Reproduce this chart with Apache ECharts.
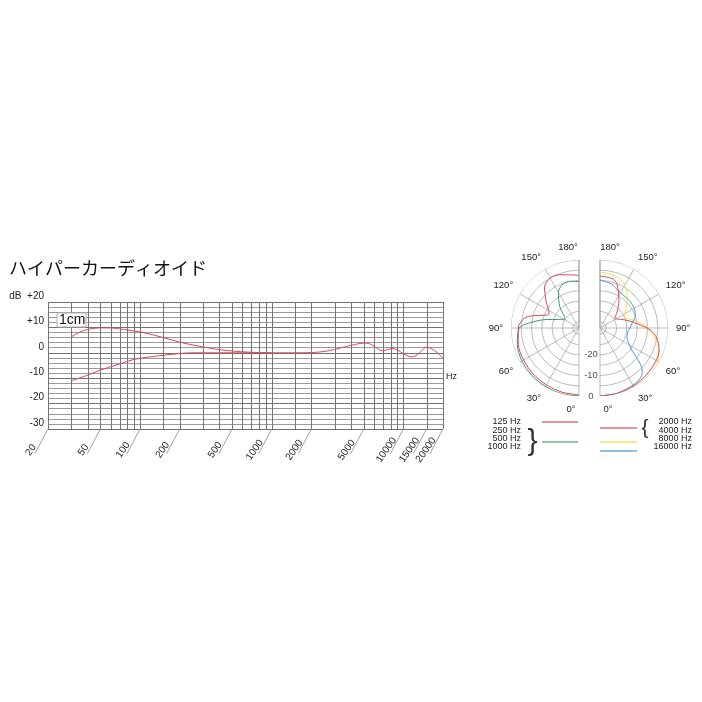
<!DOCTYPE html>
<html><head><meta charset="utf-8">
<script src="https://cdn.jsdelivr.net/npm/echarts@6/dist/echarts.min.js"></script>
<style>html,body{margin:0;padding:0;background:#fff}#c{width:702px;height:702px}</style>
</head><body><div id="c"></div>
<script>
// ---------- texts ----------
const titleText = 'ハイパーカーディオイド';
const nearLabel = '1cm';
const xUnit = 'Hz';

// ---------- frequency response ----------
const gridFreqs = [20,30,40,50,60,70,80,90,100,150,200,300,400,500,600,700,800,900,1000,1500,2000,3000,4000,5000,6000,7000,8000,9000,10000,15000,20000];
const xTickFreqs = [20,50,100,200,500,1000,2000,5000,10000,15000,20000];
const xTickLabels = ['20','50','100','200','500','1000','2000','5000','10000','15000','20000'];
const yMajorTicks = [-30,-20,-10,0,10,20];

const nearFreqs = [30,35,40,50,60,70,80,100,120,150,200,280,360,480,700,1000];
const nearDb    = [6.2,8.2,9.2,9.8,9.8,9.4,9.0,8.2,7.3,6.0,4.2,2.6,1.6,0.8,0.2,0];

const farFreqs = [30,40,50,70,90,120,160,200,250,400,700,1000,1500,2000,2500,3000,3700,4400,5000,5500,6000,6900,7600,8200,9000,10000,11000,11700,12500,13500,15000,16500,18000,20000];
const farDb    = [-11,-8.8,-6.8,-4.4,-2.6,-1.6,-0.8,-0.3,0,0,0,0,0,0.1,0.5,1.3,2.5,3.4,3.8,3.6,2.6,0.8,1.3,1.7,1.2,-0.4,-1.4,-1.6,-1.1,0.4,2.2,1.5,0.2,-2];

// ---------- polar patterns ----------
const polarRingDb = [0,-5,-10,-15,-20,-25,-30];
const polarDbLabels = [-20,-10,0];

const ang125 = [0,15,30,45,60,75,90,100,105,110,115,120,130,140,150,160,170,180];
const db125  = [-0.5,-0.8,-1.2,-1.5,-2,-2.5,-3.5,-6,-10,-15,-17,-16,-12,-7,-5,-5.5,-6.8,-7.5];

const ang250 = [0,15,30,45,60,75,90,97,105,112,120,128,138,150,160,170,180];
const db250  = [0,0,-0.3,-0.6,-1,-2,-4,-10,-17,-22,-25,-24,-19,-13,-10.3,-10,-10.5];

const ang2k = [0,15,30,45,60,70,80,88,100,108,124,133,145,158,165,180];
const db2k  = [0,-0.2,-0.5,-1,-1.5,-2.5,-5,-8.7,-16.7,-20.3,-24.3,-21.7,-17,-10.6,-8.4,-7.8];

const ang8k = [0,15,30,45,55,60,70,80,90,95,105,112,120,130,140,150,160,170,180];
const db8k  = [0,0,0,0,0,-0.5,-2.5,-6,-10,-12,-17,-20,-19,-16,-12.5,-9,-7,-6.3,-6];

const ang16k = [0,15,30,40,45,50,55,60,70,80,90,100,108,118,130,140,153,165,180];
const db16k  = [0,-0.3,-1,-2,-4,-9,-14,-16.5,-19,-19.5,-18.5,-17,-15,-14,-13.5,-13.5,-13,-11,-9.7];

const legendLeftLabels = ['125 Hz','250 Hz','500 Hz','1000 Hz'];
const legendRightLabels = ['2000 Hz','4000 Hz','8000 Hz','16000 Hz'];

// ---------- styles ----------
const RED = '#d9485a', GREEN = '#3a9a6e', YELLOW = '#efe05a', BLUE = '#4a98d4';
const RED_L = '#e8939c', GREEN_L = '#8fcaa9', YELLOW_L = '#f4ea8e', BLUE_L = '#8fc0e4';
const FONT = '"Liberation Sans", Arial, sans-serif';

const pairs = (a, b) => a.map((v, i) => [v, b[i]]);
const polarPairs = (ang, db) => ang.map((a, i) => [db[i], a]);

const chart = echarts.init(document.getElementById('c'), null, {renderer: 'canvas'});

const series = [];

// vertical log-paper grid lines
series.push({
  type: 'custom', xAxisIndex: 0, yAxisIndex: 0, silent: true, z: 1,
  data: gridFreqs.map(f => [f, 0]),
  renderItem: (params, api) => {
    const t = api.coord([api.value(0), 20]);
    const b = api.coord([api.value(0), -30]);
    const x = Math.round(t[0]) + 0.5;
    return {type: 'line', shape: {x1: x, y1: t[1], x2: x, y2: b[1]}, style: {stroke: '#747474', lineWidth: 1}};
  }
});

// slanted frequency labels with leader lines
series.push({
  type: 'custom', xAxisIndex: 0, yAxisIndex: 0, silent: true, clip: false,
  data: xTickFreqs.map(f => [f, -30]),
  renderItem: (params, api) => {
    const p = api.coord([api.value(0), -30]);
    const ang = 62 * Math.PI / 180;
    return {
      type: 'group',
      children: [
        {type: 'line', shape: {x1: p[0], y1: p[1], x2: p[0] - 28 * Math.cos(ang), y2: p[1] + 28 * Math.sin(ang)},
         style: {stroke: '#8a8a8a', lineWidth: 0.8}},
        {type: 'text', x: p[0] - 17, y: p[1] + 21, rotation: 55 * Math.PI / 180,
         style: {text: xTickLabels[params.dataIndex], align: 'center', verticalAlign: 'middle',
                 fontSize: 10, fontFamily: FONT, fill: '#222'}}
      ]
    };
  }
});

series.push({
  type: 'line', xAxisIndex: 0, yAxisIndex: 0, data: pairs(farFreqs, farDb),
  smooth: 0.35, showSymbol: false, symbol: 'none', lineStyle: {color: RED, width: 1}, z: 3
});
series.push({
  type: 'line', xAxisIndex: 0, yAxisIndex: 0, data: pairs(nearFreqs, nearDb),
  smooth: 0.35, showSymbol: false, symbol: 'none', lineStyle: {color: RED, width: 1}, z: 3
});

// polar rings (half circles)
const ringAngles = [];
for (let a = 0; a <= 180; a += 2) ringAngles.push(a);
[0, 1].forEach(pi => {
  polarRingDb.forEach(d => {
    series.push({
      type: 'line', coordinateSystem: 'polar', polarIndex: pi, silent: true, clip: false,
      data: ringAngles.map(a => [d, a]), symbol: 'none', smooth: false,
      lineStyle: {color: '#aaaaaa', width: 0.8}, z: 1
    });
  });
  // extension of the 180° axis above the outer ring
  series.push({
    type: 'line', coordinateSystem: 'polar', polarIndex: pi, silent: true, clip: false,
    data: [[-33, 180], [6, 180]], symbol: 'none',
    lineStyle: {color: '#999999', width: 0.8}, z: 1
  });
});

const polarCurve = (pi, ang, db, color) => ({
  type: 'line', coordinateSystem: 'polar', polarIndex: pi, clip: false,
  data: polarPairs(ang, db), symbol: 'none', smooth: 0.3,
  lineStyle: {color: color, width: 1}, z: 3
});
series.push(polarCurve(0, ang250, db250, GREEN));
series.push(polarCurve(0, ang125, db125, RED));
series.push(polarCurve(1, ang8k, db8k, YELLOW));
series.push(polarCurve(1, ang16k, db16k, BLUE));
series.push(polarCurve(1, ang2k, db2k, RED));

// dB labels of the polar plot
series.push({
  type: 'scatter', coordinateSystem: 'polar', polarIndex: 0, clip: false, silent: true,
  symbolSize: 0, data: polarDbLabels.map(d => [d, 0]),
  label: {show: true, position: 'inside', offset: [12, 0], formatter: p => String(p.value[0]),
          fontSize: 9.5, fontFamily: FONT, color: '#222'}
});

const angleAxisCommon = (pi, clockwise) => ({
  polarIndex: pi, type: 'value', min: 0, max: 360, interval: 30, startAngle: 270, clockwise: clockwise,
  axisLine: {show: false}, axisTick: {show: false},
  axisLabel: {
    margin: 8, fontSize: 9.5, fontFamily: FONT, color: '#222',
    formatter: v => v > 180 ? '' : (v === 0 ? '{a|0°}' : v === 180 ? '{b|180°}' : v + '°'),
    rich: clockwise ? {
      a: {padding: [0, 16, 0, 0], fontSize: 9.5, fontFamily: FONT, color: '#222'},
      b: {padding: [0, 22, 0, 0], fontSize: 9.5, fontFamily: FONT, color: '#222'}
    } : {
      a: {padding: [0, 0, 0, 16], fontSize: 9.5, fontFamily: FONT, color: '#222'},
      b: {padding: [0, 0, 0, 20], fontSize: 9.5, fontFamily: FONT, color: '#222'}
    }
  },
  splitLine: {show: true, lineStyle: {width: 0.8,
    color: Array.from({length: 12}, (_, i) => i <= 6 ? '#aaaaaa' : 'rgba(0,0,0,0)')}}
});

const legendGraphics = [];
legendLeftLabels.forEach((t, i) => legendGraphics.push({
  type: 'text', x: 521, y: 421.7 + i * 8.33, z: 100,
  style: {text: t, align: 'right', verticalAlign: 'middle', fontSize: 9, fontFamily: FONT, fill: '#222'}
}));
legendRightLabels.forEach((t, i) => legendGraphics.push({
  type: 'text', x: 692, y: 421.7 + i * 8.33, z: 100,
  style: {text: t, align: 'right', verticalAlign: 'middle', fontSize: 9, fontFamily: FONT, fill: '#222'}
}));
const legendLine = (x1, x2, y, c) => ({type: 'rect', z: 100, shape: {x: x1, y: y, width: x2 - x1, height: 2},
  style: {fill: c, stroke: null}});
legendGraphics.push(legendLine(542, 578, 421, RED_L));
legendGraphics.push(legendLine(542, 578, 441, GREEN_L));
legendGraphics.push(legendLine(600, 637, 427, RED_L));
legendGraphics.push(legendLine(600, 637, 441, YELLOW_L));
legendGraphics.push(legendLine(600, 637, 450, BLUE_L));
legendGraphics.push({type: 'text', x: 532.5, y: 441.5, z: 100,
  style: {text: '}', align: 'center', verticalAlign: 'middle', fontSize: 30, fontFamily: FONT, fontWeight: 'lighter', fill: '#333'}});
legendGraphics.push({type: 'text', x: 645, y: 428, z: 100,
  style: {text: '{', align: 'center', verticalAlign: 'middle', fontSize: 21, fontFamily: FONT, fontWeight: 'lighter', fill: '#333'}});
// "1cm" box
legendGraphics.push({type: 'group', x: 57, y: 313, z: 100, children: [
  {type: 'rect', shape: {x: 0, y: 0, width: 29, height: 14}, style: {fill: '#fff', stroke: '#b0b0b0', lineWidth: 1}, z: 100},
  {type: 'text', x: 2, y: 7.5, style: {text: nearLabel, align: 'left', verticalAlign: 'middle', fontSize: 14, fontFamily: FONT, fill: '#111'}, z: 101}
]});

const option = {
  animation: false,
  backgroundColor: '#ffffff',
  title: {text: titleText, left: 9, top: 259, padding: 0,
          textStyle: {fontSize: 18, fontWeight: 'normal', fontFamily: '"Noto Sans CJK JP"', color: '#111'}},
  grid: {left: 48, top: 302, width: 395, height: 127, containLabel: false},
  xAxis: {
    type: 'log', logBase: 10, min: 20, max: 20000,
    axisLine: {show: false}, axisTick: {show: false}, axisLabel: {show: false}, splitLine: {show: false},
    name: xUnit, nameLocation: 'end', nameGap: 3,
    nameTextStyle: {fontSize: 9, fontFamily: FONT, color: '#222', verticalAlign: 'top', padding: [19, 0, 0, 0]}
  },
  yAxis: {
    type: 'value', min: -30, max: 20, interval: 2,
    axisLine: {show: false}, axisTick: {show: false},
    axisLabel: {
      margin: 4, fontSize: 10, fontFamily: FONT, color: '#222', verticalAlign: 'bottom', lineHeight: 12,
      formatter: v => yMajorTicks.indexOf(v) < 0 ? '' : (v === 20 ? 'dB  +20' : v > 0 ? '+' + v : String(v))
    },
    splitLine: {show: true, lineStyle: {width: 1, color: ['#707070', '#9a9a9a', '#9a9a9a', '#9a9a9a', '#9a9a9a']}}
  },
  polar: [
    {center: [579, 328], radius: 68},
    {center: [600, 328], radius: 68}
  ],
  angleAxis: [angleAxisCommon(0, true), angleAxisCommon(1, false)],
  radiusAxis: [
    {polarIndex: 0, type: 'value', min: -33, max: 0, show: false, splitLine: {show: false}, axisLine: {show: false}, axisLabel: {show: false}, axisTick: {show: false}},
    {polarIndex: 1, type: 'value', min: -33, max: 0, show: false, splitLine: {show: false}, axisLine: {show: false}, axisLabel: {show: false}, axisTick: {show: false}}
  ],
  graphic: legendGraphics,
  series: series
};
chart.setOption(option);
</script></body></html>
